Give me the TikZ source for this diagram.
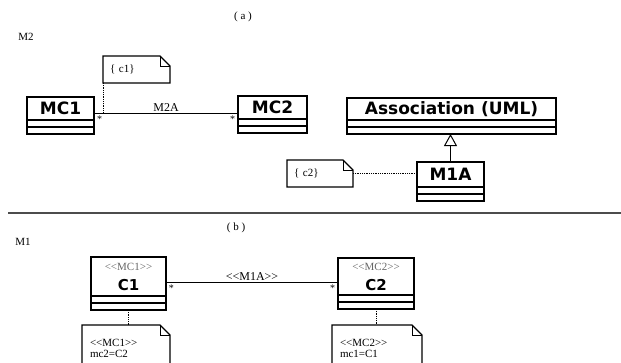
\documentclass[tikz,border=0pt]{standalone}
\usepackage{fontspec}
\setmainfont{Liberation Serif}
\newfontfamily\clsfont{DejaVu Sans}
\usetikzlibrary{arrows.meta,positioning}

% class box: name, corner, text, width, height of name part
\newcommand{\umlbox}[5]{%
  \node[cls, minimum width=#4pt, minimum height=#5pt] (#1) at (#2) {#3};
  \node[compart, minimum width=#4pt, below=0pt of #1] (#1-a) {};
  \node[compart, minimum width=#4pt, below=0pt of #1-a] (#1-b) {};
}
% note outline with folded corner
\newcommand{\dogear}[1]{%
  \draw[noteline] (#1.north west) -- ([xshift=-10pt]#1.north east) -- ([yshift=-10pt]#1.north east) -- (#1.south east) -- (#1.south west) -- cycle;
  \draw[noteline, line width=0.5pt] ([xshift=-10pt]#1.north east) |- ([yshift=-10pt]#1.north east);
}
\newcommand{\stereo}{\rmfamily\mdseries\color{black!60}\fontsize{11}{12}\selectfont}

\begin{document}
\begin{tikzpicture}[x=1pt, y=-1pt,
  cls/.style={draw, line width=1.3pt, anchor=north west, inner sep=0pt, outer sep=0pt, align=center,
    font=\clsfont\bfseries\fontsize{17}{19}\selectfont},
  compart/.style={draw, line width=1.3pt, inner sep=0pt, outer sep=0pt, minimum height=7pt},
  note/.style={anchor=north west, inner sep=0pt, inner xsep=7pt, outer sep=0pt, align=left,
    font=\fontsize{11}{11}\selectfont},
  noteline/.style={line width=1.1pt},
  assoc/.style={line width=1pt},
  dep/.style={densely dotted, line width=0.8pt},
  gen/.style={line width=1pt, -{Triangle[open, length=12pt, width=13pt]}},
  lbl/.style={font=\fontsize{12}{13}\selectfont, inner sep=1pt},
  mult/.style={font=\fontsize{10}{10}\selectfont, inner sep=2.5pt},
  hdr/.style={font=\fontsize{11}{12}\selectfont}]
  \useasboundingbox (0,0) rectangle (621,362);
  \clip (0,0) rectangle (621,362);

  % (a) level M2
  \node[hdr] (parta) at (243,17) {( a )};
  \node[hdr] (levm2) at (26,37) {M2};
  \umlbox{mc1}{27,97}{MC1}{67}{23}
  \umlbox{mc2}{238,96}{MC2}{69}{23}
  \umlbox{uml}{347,98}{Association (UML)}{209}{22}
  \umlbox{m1a}{417,162}{M1A}{67}{25}
  \coordinate (m2a) at ([yshift=-4.5pt]mc1.east);
  \draw[assoc] (m2a) -- (m2a -| mc2.west)
    node[lbl, midway, above] (m2alabel) {M2A}
    node[mult, pos=0, below right] (m2as) {*}
    node[mult, pos=1, below left] (m2at) {*};
  \draw[gen] (m1a.north) -- (m1a.north |- uml-b.south);
  \node[note, text width=53pt, minimum height=27pt] (notec1) at (103,56) {\{ c1\}};
  \dogear{notec1}
  \draw[dep] (notec1.south west) -- (notec1.south west |- m2a);
  \node[note, text width=52pt, minimum height=27pt] (notec2) at (287,160) {\{ c2\}};
  \dogear{notec2}
  \draw[dep] (notec2.east) -- (notec2.east -| m1a.west);

  % separator
  \draw[line width=1.5pt, black!70] (8,213) -- (621,213);

  % (b) level M1
  \node[hdr] (partb) at (236,228) {( b )};
  \node[hdr] (levm1) at (23,242) {M1};
  \umlbox{cl1}{91,257}{{\stereo <{}<MC1>{}>}\\[1pt]{\fontsize{15}{17}\selectfont C1}}{75}{39}
  \umlbox{cl2}{338,258}{{\stereo <{}<MC2>{}>}\\[1pt]{\fontsize{15}{17}\selectfont C2}}{76}{37}
  \coordinate (m1link) at ([yshift=-5.5pt]cl1.east);
  \draw[assoc, line width=0.8pt] (m1link) -- (m1link -| cl2.west)
    node[lbl, midway, above] (m1alabel) {<{}<M1A>{}>}
    node[mult, pos=0, below right] (m1as) {*}
    node[mult, pos=1, below left] (m1at) {*};
  \node[note, inner xsep=8pt, text width=72pt, minimum height=46pt] (notecl1) at (82,325) {<{}<MC1>{}>\\mc2=C2};
  \dogear{notecl1}
  \draw[dep] (cl1-b.south) -- (cl1-b.south |- notecl1.north);
  \node[note, inner xsep=8pt, text width=74pt, minimum height=46pt] (notecl2) at (332,325) {<{}<MC2>{}>\\mc1=C1};
  \dogear{notecl2}
  \draw[dep] (cl2-b.south) -- (cl2-b.south |- notecl2.north);
\end{tikzpicture}
\end{document}
